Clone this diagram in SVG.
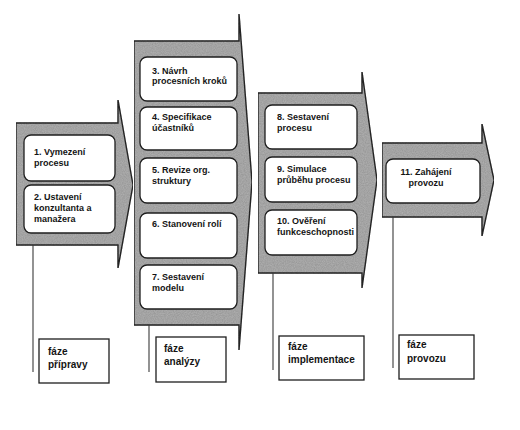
<svg xmlns="http://www.w3.org/2000/svg" width="520" height="430" viewBox="0 0 520 430">
<style>
.arrow{fill:#b2b2b2;stroke:#2a2a2a;stroke-width:1.4;stroke-linejoin:miter}
.step{fill:#ffffff;stroke:#1e1e1e;stroke-width:1.3}
.lbl{fill:#ffffff;stroke:#1e1e1e;stroke-width:1.3}
.t{font-family:"Liberation Sans",Arial,sans-serif;font-weight:bold;font-size:9px;fill:#141414}
.tl{font-family:"Liberation Sans",Arial,sans-serif;font-weight:bold;font-size:10px;fill:#141414}
.conn line{stroke:#3a3a3a;stroke-width:1.1}
</style>
<defs>
<filter id="grain" x="0" y="0" width="100%" height="100%">
<feTurbulence type="fractalNoise" baseFrequency="0.9" numOctaves="2" seed="3" result="n"/>
<feColorMatrix in="n" type="matrix" values="0 0 0 0 0  0 0 0 0 0  0 0 0 0 0  0 0 0 0.35 0" result="dots"/>
<feComposite in="dots" in2="SourceGraphic" operator="in" result="d2"/>
<feMerge><feMergeNode in="SourceGraphic"/><feMergeNode in="d2"/></feMerge>
</filter>
</defs>
<rect width="520" height="430" fill="#ffffff"/>
<g id="phase1">
<polygon class="arrow" filter="url(#grain)" points="16,123 118,123 118,100 133,185 118,268 118,245 16,245"/>
</g>
<g id="phase2">
<polygon class="arrow" filter="url(#grain)" points="134,41 239,41 239,14 252,182 239,350 239,325 134,325"/>
</g>
<g id="phase3">
<polygon class="arrow" filter="url(#grain)" points="258,93 362,93 362,72 377,180 362,288 362,273 258,273"/>
</g>
<g id="phase4">
<polygon class="arrow" filter="url(#grain)" points="382,143 482,143 482,124 494,180 482,236 482,217 382,217"/>
</g>
<g id="step1"><rect class="step" x="24" y="135" width="91" height="46" rx="7"/>
<text class="t"><tspan x="34" y="155">1. Vymezení</tspan><tspan x="34" y="166">procesu</tspan></text></g>
<g id="step2"><rect class="step" x="24" y="185" width="91" height="48" rx="7"/>
<text class="t"><tspan x="34" y="200">2. Ustavení</tspan><tspan x="34" y="211">konzultanta a</tspan><tspan x="34" y="222">manažera</tspan></text></g>
<g id="step3"><rect class="step" x="140" y="57" width="97" height="44" rx="7"/>
<text class="t"><tspan x="152" y="74">3. Návrh</tspan><tspan x="152" y="84">procesních kroků</tspan></text></g>
<g id="step4"><rect class="step" x="140" y="107" width="97" height="43" rx="7"/>
<text class="t"><tspan x="152" y="120">4. Specifikace</tspan><tspan x="152" y="131">účastníků</tspan></text></g>
<g id="step5"><rect class="step" x="140" y="158" width="97" height="45" rx="7"/>
<text class="t"><tspan x="152" y="173">5. Revize org.</tspan><tspan x="152" y="184">struktury</tspan></text></g>
<g id="step6"><rect class="step" x="140" y="213" width="97" height="45" rx="7"/>
<text class="t"><tspan x="152" y="227">6. Stanovení rolí</tspan></text></g>
<g id="step7"><rect class="step" x="140" y="265" width="97" height="44" rx="7"/>
<text class="t"><tspan x="152" y="280">7. Sestavení</tspan><tspan x="152" y="291">modelu</tspan></text></g>
<g id="step8"><rect class="step" x="265" y="105" width="92" height="44" rx="7"/>
<text class="t"><tspan x="277" y="120">8. Sestavení</tspan><tspan x="277" y="131">procesu</tspan></text></g>
<g id="step9"><rect class="step" x="265" y="157" width="92" height="45" rx="7"/>
<text class="t"><tspan x="277" y="172">9. Simulace</tspan><tspan x="277" y="183">průběhu procesu</tspan></text></g>
<g id="step10"><rect class="step" x="265" y="210" width="92" height="45" rx="7"/>
<text class="t"><tspan x="277" y="224">10. Ověření</tspan><tspan x="277" y="235">funkceschopnosti</tspan></text></g>
<g id="step11"><rect class="step" x="386" y="159" width="94" height="44" rx="7"/>
<text class="t" text-anchor="middle"><tspan x="426" y="175">11. Zahájení</tspan><tspan x="426" y="186">provozu</tspan></text></g>
<g class="conn" id="connectors">
<line x1="33" y1="245" x2="33" y2="372"/>
<line x1="149" y1="325" x2="149" y2="372"/>
<line x1="273" y1="273" x2="273" y2="370"/>
<line x1="393" y1="217" x2="393" y2="368"/>
</g>
<g id="label1"><rect class="lbl" x="39" y="339" width="70" height="44"/>
<text class="tl"><tspan x="48" y="355">fáze</tspan><tspan x="48" y="368">přípravy</tspan></text></g>
<g id="label2"><rect class="lbl" x="156" y="337" width="70" height="45"/>
<text class="tl"><tspan x="164" y="352">fáze</tspan><tspan x="164" y="365">analýzy</tspan></text></g>
<g id="label3"><rect class="lbl" x="279" y="336" width="85" height="44"/>
<text class="tl"><tspan x="288" y="350">fáze</tspan><tspan x="288" y="363">implementace</tspan></text></g>
<g id="label4"><rect class="lbl" x="399" y="335" width="75" height="44"/>
<text class="tl"><tspan x="407" y="348">fáze</tspan><tspan x="407" y="362">provozu</tspan></text></g>
</svg>
